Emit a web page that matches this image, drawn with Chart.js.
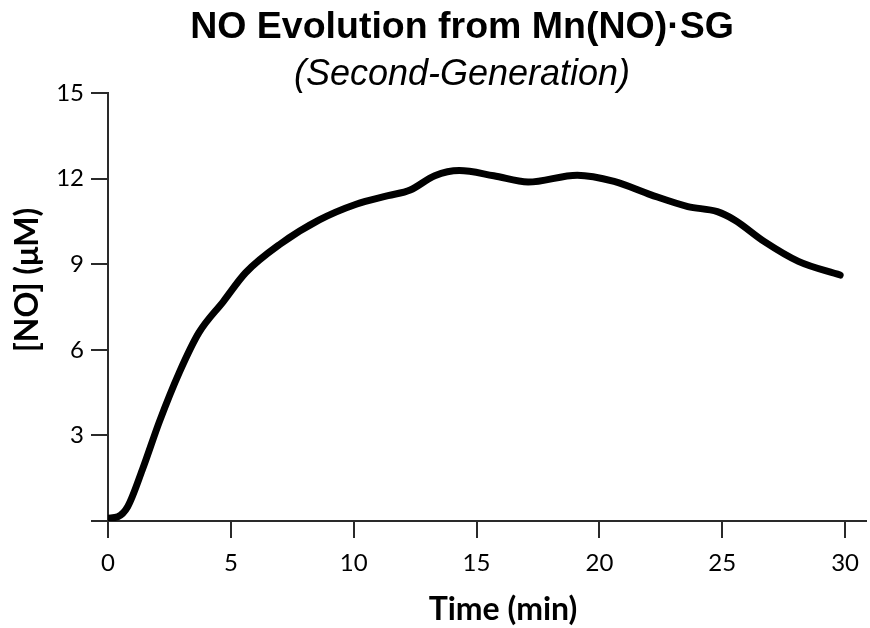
<!DOCTYPE html>
<html>
<head>
<meta charset="utf-8">
<script src="https://cdn.jsdelivr.net/npm/chart.js@4.4.1/dist/chart.umd.min.js"></script>
<style>
html,body{margin:0;padding:0;background:#fff;}
#wrap{width:870px;height:628px;position:relative;}
</style>
</head>
<body>
<div id="wrap"><canvas id="c" width="870" height="628"></canvas></div>
<script>
// Data
const timeMin = [0, 0.4, 0.8, 1.4, 2.1, 2.9, 3.7, 4.7, 5.6, 7.0, 8.6, 10.1, 11.4, 12.3, 13.3, 14.3, 15.7, 17.1, 19.1, 20.6, 22.1, 23.6, 24.8, 25.5, 26.7, 28.1, 29.8];
const noConc  = [0.1, 0.15, 0.5, 1.8, 3.5, 5.2, 6.6, 7.7, 8.7, 9.7, 10.55, 11.1, 11.4, 11.6, 12.1, 12.28, 12.1, 11.88, 12.12, 11.9, 11.43, 11.02, 10.84, 10.55, 9.8, 9.1, 8.62];
const xTicks = [0, 5, 10, 15, 20, 25, 30];
const yTicks = [0, 3, 6, 9, 12, 15];
const yTickLabels = ['', '3', '6', '9', '12', '15'];
const titleText = 'NO Evolution from Mn(NO)\u00B7SG';
const subtitleText = '(Second-Generation)';
const xTitle = 'Time (min)';
const yTitle = '[NO] (\u03BCM)';

const points = timeMin.map((t, i) => ({x: t, y: noConc[i]}));
const axisColor = '#2a2a2a';
const tickFont = {family: 'Lato, "Open Sans", sans-serif', size: 24};

const axisTitles = {
  id: 'axisTitles',
  afterDraw(chart) {
    const ctx = chart.ctx;
    ctx.save();
    ctx.fillStyle = '#000';
    ctx.font = 'bold 32px Lato, "Open Sans", sans-serif';
    ctx.textAlign = 'center';
    ctx.textBaseline = 'middle';
    ctx.fillText(xTitle, 503, 610);
    ctx.translate(28, 280);
    ctx.rotate(-Math.PI / 2);
    ctx.fillText(yTitle, 0, 0);
    ctx.restore();
  }
};

new Chart(document.getElementById('c'), {
  type: 'line',
  data: {
    datasets: [{
      data: points,
      borderColor: '#000',
      borderWidth: 7,
      pointRadius: 0,
      fill: false,
      cubicInterpolationMode: 'monotone',
      borderCapStyle: 'round',
      borderJoinStyle: 'round'
    }]
  },
  options: {
    responsive: false,
    animation: false,
    layout: {padding: {left: 54, right: 0, top: 0, bottom: 0}},
    plugins: {
      legend: {display: false},
      tooltip: {enabled: false},
      title: {
        display: true,
        text: titleText,
        color: '#000',
        font: {family: '"Liberation Sans", Arial, sans-serif', size: 37.5, weight: 'bold', lineHeight: 1.1},
        padding: {top: 7.5, bottom: 0}
      },
      subtitle: {
        display: true,
        text: subtitleText,
        color: '#000',
        font: {family: '"Liberation Sans", Arial, sans-serif', size: 36, style: 'italic', weight: 'normal', lineHeight: 1.0},
        padding: {top: 8.25, bottom: 0}
      }
    },
    scales: {
      x: {
        type: 'linear',
        min: 0,
        max: 30.85,
        afterFit(s) { s.height = 107; },
        afterBuildTicks(s) { s.ticks = xTicks.map(v => ({value: v})); },
        ticks: {color: '#000', font: tickFont, padding: 11, maxRotation: 0, includeBounds: false},
        grid: {display: true, drawOnChartArea: false, drawTicks: true, tickLength: 17, color: axisColor, lineWidth: 2},
        border: {display: true, color: axisColor, width: 2}
      },
      y: {
        type: 'linear',
        min: 0,
        max: 15,
        afterFit(s) { s.width = 54; },
        afterBuildTicks(s) { s.ticks = yTicks.map(v => ({value: v})); },
        ticks: {
          color: '#000', font: tickFont, padding: 7,
          callback: (v) => yTickLabels[yTicks.indexOf(v)]
        },
        grid: {display: true, drawOnChartArea: false, drawTicks: true, tickLength: 17, color: axisColor, lineWidth: 2},
        border: {display: true, color: axisColor, width: 2}
      }
    }
  },
  plugins: [axisTitles]
});
</script>
</body>
</html>
